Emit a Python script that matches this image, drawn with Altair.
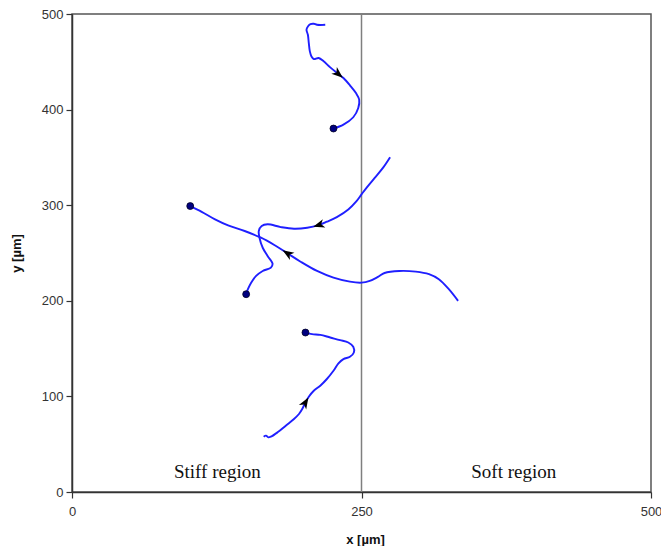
import altair as alt
import pandas as pd

# ---- data (in µm) ----
path1_x = [218.7, 211.6, 208.8, 205.9, 203.7, 202.5, 203.7, 204.5, 205.4, 206.8, 208.8, 213.0,
           217.3, 223.0, 230.1, 234.4, 240.0, 245.2, 248.0, 247.2, 242.9, 234.4, 225.8]
path1_y = [488.7, 488.7, 489.8, 489.4, 487.0, 483.5, 478.3, 469.5, 460.9, 455.6, 452.9, 454.0,
           450.5, 444.2, 437.2, 433.0, 425.4, 417.3, 410.4, 401.7, 392.0, 384.3, 380.2]

path2_x = [274.7, 268.5, 261.4, 254.3, 250.0, 245.7, 238.6, 228.7, 220.1, 213.0, 203.1, 191.7,
           180.3, 168.9, 163.8, 161.3, 161.9, 164.7, 168.9, 173.2, 171.8, 164.7, 159.0, 154.7,
           151.9, 150.4]
path2_y = [350.2, 339.0, 328.6, 318.2, 311.3, 304.3, 295.6, 287.6, 282.7, 279.2, 276.4, 275.4,
           277.1, 280.0, 278.2, 273.0, 266.0, 255.5, 246.9, 238.8, 234.7, 231.2, 226.0, 219.0,
           212.1, 206.9]

path3_x = [333.4, 325.4, 316.8, 308.3, 296.9, 282.7, 269.9, 264.2, 257.1, 250.0, 240.0, 225.8,
           211.6, 197.4, 186.0, 174.7, 163.2, 149.1, 134.8, 123.5, 112.0, 102.1]
path3_y = [199.9, 212.1, 222.5, 227.8, 230.5, 231.2, 229.1, 225.0, 220.8, 219.0, 220.0, 224.2,
           231.2, 240.9, 249.7, 258.4, 266.0, 273.0, 278.9, 285.2, 293.1, 299.1]

path4_x = [165.5, 167.5, 169.5, 171.8, 177.5, 184.6, 191.7, 196.0, 198.8, 201.6, 204.5, 208.8,
           214.4, 220.1, 225.8, 230.1, 234.4, 240.0, 243.4, 242.9, 238.6, 231.5, 223.0, 214.4,
           207.3, 201.6]
path4_y = [57.9, 59.0, 57.2, 57.9, 62.4, 69.4, 76.4, 81.6, 86.8, 93.7, 99.7, 105.9,
           111.2, 118.2, 126.8, 134.5, 139.0, 141.4, 145.9, 151.9, 156.4, 158.9, 161.6, 164.4,
           165.1, 166.8]

# end points (dots)
dot_x = [225.8, 150.4, 102.1, 201.6]
dot_y = [380.2, 206.9, 299.1, 166.8]

# arrow heads (position and direction of travel, degrees clockwise from up)
arrow_x = [230.1, 213.0, 186.0, 201.6]
arrow_y = [437.2, 279.2, 249.7, 93.7]
arrow_angle = [130, 253, 302, 31]

region_labels = ["Stiff region", "Soft region"]
region_x = [125.5, 381.5]
region_y = [15, 15]

boundary_x = [250]

# ---- tables ----
rows = []
for pid, (xs_, ys_) in enumerate([(path1_x, path1_y), (path2_x, path2_y),
                                  (path3_x, path3_y), (path4_x, path4_y)]):
    for i, (a, b) in enumerate(zip(xs_, ys_)):
        rows.append({"path": pid, "i": i, "x": a, "y": b})
paths = pd.DataFrame(rows)
dots = pd.DataFrame({"x": dot_x, "y": dot_y})
arrows = pd.DataFrame({"x": arrow_x, "y": arrow_y, "angle": arrow_angle})
labels = pd.DataFrame({"x": region_x, "y": region_y, "t": region_labels})
boundary = pd.DataFrame({"x": boundary_x})

xs = alt.Scale(domain=[0, 500], nice=False, zero=False)
ys = alt.Scale(domain=[0, 500], nice=False, zero=False)

xaxis = alt.Axis(values=[0, 250, 500], title="x [µm]", grid=False, labelFlush=False,
                 labelPadding=7, titleX=293, titleY=47, titleBaseline="middle")
yaxis = alt.Axis(values=[0, 100, 200, 300, 400, 500], title="y [µm]", grid=False,
                 labelFlush=False, labelPadding=3, titleX=-56, titleY=239, titleAngle=-90,
                 titleBaseline="middle")

base_x = alt.X("x:Q", scale=xs, axis=xaxis)
base_y = alt.Y("y:Q", scale=ys, axis=yaxis)

vline = alt.Chart(boundary).mark_rule(color="#7f7f7f", strokeWidth=1.5).encode(
    x=alt.X("x:Q", scale=xs, axis=xaxis), y=alt.value(0), y2=alt.value(478))

lines = alt.Chart(paths).mark_line(color="#1f1fff", strokeWidth=1.9,
                                   interpolate="catmull-rom").encode(
    x=base_x, y=base_y, detail="path:N", order="i:Q")

pts = alt.Chart(dots).mark_point(filled=True, shape="circle", size=48, fill="#000080",
                                 stroke="#000022", strokeWidth=0.8, opacity=1).encode(
    x=base_x, y=base_y)

heads = alt.Chart(arrows).mark_point(filled=True, shape="M0,-1L0.75,1L0,0.45L-0.75,1Z",
                                     size=130, color="#000000", opacity=1).encode(
    x=base_x, y=base_y, angle=alt.Angle("angle:Q", scale=None))

texts = alt.Chart(labels).mark_text(font="Liberation Serif", fontSize=19, color="#111111",
                                    baseline="alphabetic", align="center").encode(
    x=base_x, y=base_y, text="t:N")

chart = alt.layer(vline, lines, pts, heads, texts).properties(
    width=579, height=478,
    autosize=alt.AutoSizeParams(type="none"),
    padding={"left": 64, "top": 6, "right": 10, "bottom": 54},
).configure_view(
    stroke="#555555", strokeWidth=1.5
).configure_axis(
    domainColor="#333333", domainWidth=1.5, tickColor="#333333", tickWidth=1.2,
    tickSize=6, labelFont="Liberation Sans", labelFontSize=13, labelColor="#333333",
    titleFont="Liberation Sans", titleFontSize=13, titleFontWeight="bold",
    titleColor="#111111"
)

chart.save("out.html", embed_options={"renderer": "svg", "actions": False})
